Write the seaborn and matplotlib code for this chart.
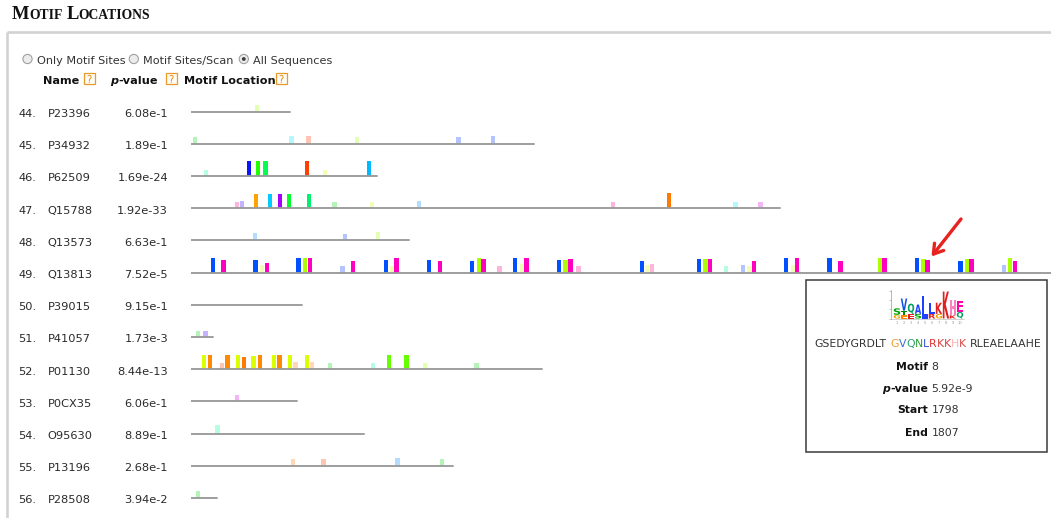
import numpy as np
import pandas as pd
import matplotlib
matplotlib.use("Agg")
import matplotlib.pyplot as plt
import seaborn as sns
from matplotlib.patches import Rectangle, Circle, PathPatch
from matplotlib.textpath import TextPath
from matplotlib.font_manager import FontProperties
from matplotlib.transforms import Affine2D

# ---------------- data ----------------
row_numbers = [44, 45, 46, 47, 48, 49, 50, 51, 52, 53, 54, 55, 56]
names = ['P23396', 'P34932', 'P62509', 'Q15788', 'Q13573', 'Q13813', 'P39015',
         'P41057', 'P01130', 'P0CX35', 'O95630', 'P13196', 'P28508']
pvalues = ['6.08e-1', '1.89e-1', '1.69e-24', '1.92e-33', '6.63e-1', '7.52e-5', '9.15e-1',
           '1.73e-3', '8.44e-13', '6.06e-1', '8.89e-1', '2.68e-1', '3.94e-2']
seq_lengths = [242, 840, 457, 1443, 535, 2472, 272, 54, 860, 260, 423, 641, 64]

palette = {
    'blue': '#0a14ff', 'blue2': '#0050ff', 'green': '#22ff00', 'green2': '#00ff50',
    'ored': '#ff4000', 'sky': '#00b8ff', 'orange': '#ffa200', 'cyan': '#00ccff',
    'purple': '#a400ff', 'green3': '#00ff2a', 'green4': '#00f070', 'orange2': '#ff7a00',
    'ygreen': '#aaff00', 'magenta': '#ff00c0', 'yellow': '#dcff00', 'orange3': '#ff8a00',
    'lime': '#66ff00',
    'p_ygreen': '#e2ffb4', 'p_green': '#b4f4b8', 'p_cyan': '#b4f8ff', 'p_salmon': '#ffc4b4',
    'p_blue': '#b4c4ff', 'p_mint': '#b4ffe2', 'p_pink': '#ffb4dc', 'p_lav': '#c4b4ff',
    'p_sky': '#b4dcff', 'p_violet': '#f4b4f8', 'p_peach': '#ffd8b8', 'p_yellow': '#f0ffb4',
}

# motif sites per sequence: (centre residue, site score height, colour key)
sites_44 = [(162, 7, 'p_ygreen')]
sites_45 = [(11, 6.7, 'p_green'), (247, 8, 'p_cyan'), (288, 8, 'p_salmon'),
            (407, 6.7, 'p_ygreen'), (655, 6.7, 'p_blue'), (740, 8, 'p_blue')]
sites_46 = [(37, 6, 'p_mint'), (143, 15, 'blue'), (165, 15, 'green'), (183, 15, 'green2'),
            (285, 15, 'ored'), (329, 6, 'p_yellow'), (436, 15, 'sky')]
sites_47 = [(113, 6.7, 'p_pink'), (126, 7.3, 'p_lav'), (160, 14.7, 'orange'), (194, 14.7, 'cyan'),
            (218, 14.7, 'purple'), (240, 14.7, 'green3'), (290, 14.7, 'green4'),
            (352, 6.3, 'p_green'), (444, 6.3, 'p_yellow'), (559, 7.3, 'p_sky'),
            (1033, 6.7, 'p_pink'), (1170, 15, 'orange2'), (1333, 6.7, 'p_cyan'), (1394, 6.7, 'p_violet')]
sites_48 = [(157, 7.3, 'p_sky'), (378, 6.3, 'p_blue'), (458, 8.7, 'p_ygreen')]
sites_49 = [(54, 14.7, 'blue2'), (80, 12.7, 'magenta'), (159, 12.7, 'blue2'), (175, 7.7, 'p_yellow'),
            (187, 10, 'magenta'), (264, 14.7, 'blue2'), (280, 14.7, 'ygreen'), (292, 14.7, 'magenta'),
            (372, 6.7, 'p_blue'), (397, 11.3, 'magenta'), (478, 12.7, 'blue2'), (493, 6.7, 'p_yellow'),
            (504, 14.7, 'magenta'), (583, 12.7, 'blue2'), (610, 11.3, 'magenta'), (688, 11.3, 'blue2'),
            (705, 14.7, 'ygreen'), (716, 13.7, 'magenta'), (755, 6.7, 'p_pink'), (794, 14.7, 'blue2'),
            (811, 9, 'p_yellow'), (822, 14.7, 'magenta'), (901, 12.3, 'blue2'), (917, 12.3, 'ygreen'),
            (929, 13.3, 'magenta'), (949, 6.3, 'p_pink'), (1104, 11.3, 'blue2'), (1118, 7.3, 'p_yellow'),
            (1129, 8.3, 'p_pink'), (1244, 13.3, 'blue2'), (1260, 13.3, 'ygreen'), (1271, 13.3, 'magenta'),
            (1310, 6.3, 'p_mint'), (1351, 7.3, 'p_blue'), (1367, 6.3, 'p_yellow'), (1378, 11.3, 'magenta'),
            (1457, 14.3, 'blue2'), (1474, 7.3, 'p_yellow'), (1484, 14.3, 'magenta'), (1563, 14.3, 'blue2'),
            (1590, 11.3, 'magenta'), (1687, 14.3, 'ygreen'), (1698, 14.3, 'magenta'), (1777, 14.3, 'blue2'),
            (1793, 13.3, 'ygreen'), (1803, 12.3, 'magenta'), (1884, 11.3, 'blue2'), (1899, 13.3, 'ygreen'),
            (1910, 13.3, 'magenta'), (1990, 7.3, 'p_blue'), (2005, 14.3, 'ygreen'), (2017, 11.3, 'magenta')]
sites_50 = []
sites_51 = [(18, 6.3, 'p_green'), (36, 6.3, 'p_lav')]
sites_52 = [(33, 14.7, 'yellow'), (47, 14.7, 'orange3'), (77, 6, 'p_salmon'), (90, 14.7, 'orange3'),
            (116, 14.7, 'yellow'), (130, 12, 'orange2'), (154, 13.3, 'yellow'), (169, 14.7, 'orange3'),
            (204, 14.7, 'yellow'), (217, 14.7, 'orange3'), (243, 14.7, 'yellow'), (256, 7.3, 'p_peach'),
            (284, 14.7, 'yellow'), (297, 7.3, 'p_peach'), (341, 6.3, 'p_green'), (446, 6.3, 'p_mint'),
            (485, 14.7, 'lime'), (528, 14.7, 'lime'), (573, 6.3, 'p_ygreen'), (699, 6.3, 'p_green')]
sites_53 = [(113, 6.3, 'p_violet')]
sites_54 = [(65, 8.7, 'p_mint')]
sites_55 = [(250, 6.7, 'p_peach'), (325, 6.7, 'p_salmon'), (506, 7.7, 'p_sky'), (615, 6.7, 'p_green')]
sites_56 = [(18, 6.7, 'p_green')]
all_sites = [sites_44, sites_45, sites_46, sites_47, sites_48, sites_49, sites_50,
             sites_51, sites_52, sites_53, sites_54, sites_55, sites_56]

# tooltip contents
tip_left = 'GSEDYGRDLT'
tip_site = 'GVQNLRKKHK'
tip_site_colors = ['#f0a030', '#3a6fd0', '#30a070', '#30a030', '#3050e0',
                   '#e03030', '#d84040', '#d84040', '#ffb0b0', '#d84848']
tip_right = 'RLEAELAAHE'
tip_fields = [('Motif', '8'), ('p-value', '5.92e-9'), ('Start', '1798'), ('End', '1807')]

# sequence logo (bottom -> top): letter, colour, height in bits
logo_columns = [
    [('G', '#f0a000', 0.4), ('S', '#00a000', 0.7)],
    [('E', '#ff8800', 0.35), ('T', '#008800', 0.5), ('V', '#1050e0', 1.3)],
    [('E', '#e02020', 0.5), ('Q', '#00a060', 1.1)],
    [('S', '#00a000', 0.5), ('A', '#2040ff', 1.0)],
    [('L', '#2040ff', 2.4)],
    [('R', '#e02020', 0.5), ('L', '#2040ff', 1.2)],
    [('G', '#f0a000', 0.5), ('K', '#e02020', 1.2)],
    [('K', '#e02020', 2.9)],
    [('K', '#e02020', 0.35), ('H', '#ff80c0', 1.6)],
    [('Q', '#00a060', 0.7), ('E', '#ff00aa', 1.2)],
]

# ---------------- figure ----------------
sns.set_theme(style='white')
plt.rcParams['font.family'] = ['DejaVu Sans']

W, H = 1051, 518
fig = plt.figure(figsize=(W / 100, H / 100), dpi=100)
fig.patch.set_facecolor('white')

# pixel-space overlay for page furniture
bg = fig.add_axes([0, 0, 1, 1])
bg.set_xlim(0, W)
bg.set_ylim(H, 0)
bg.axis('off')
bg.patch.set_visible(False)
bg.set_zorder(2)

# track axes: x in residues, y in row index
x0_px = 190.7
px_per_res = 0.4087
row0_px = 111.7
row_step = 32.19
ax = fig.add_axes([x0_px / W, 0, (W - x0_px) / W, 1])
ax.set_zorder(1)
ax.patch.set_visible(False)

df_lines = pd.DataFrame({
    'x': np.ravel([[0, L] for L in seq_lengths]),
    'row': np.repeat(np.arange(len(names)), 2),
    'name': np.repeat(names, 2),
})
sns.lineplot(data=df_lines, x='x', y='row', units='name', estimator=None, sort=False,
             color='#9a9a9a', lw=1.35, ax=ax, legend=False, zorder=3)

site_w = 11
for i, sites in enumerate(all_sites):
    if not sites:
        continue
    pos = [s[0] for s in sites]
    hts = [s[1] / row_step for s in sites]
    cols = [palette[s[2]] for s in sites]
    ax.bar(pos, [-h for h in hts], bottom=i, width=site_w, color=cols,
           edgecolor='none', align='center', zorder=2)

ax.set_xlim(0, (W - x0_px) / px_per_res)
ax.set_ylim((H - row0_px) / row_step, -row0_px / row_step)
ax.axis('off')

renderer = fig.canvas.get_renderer()
TXT = '#2a2a2a'


def chain(parts, x, y, **common):
    """parts: list of (text, kwargs); returns end x in px"""
    for txt, kw in parts:
        opts = dict(common)
        opts.update(kw)
        t = bg.text(x, y, txt, va='baseline', ha='left', **opts)
        bb = t.get_window_extent(renderer=renderer)
        x = bb.x1 + opts.get('gap', 0) if False else bb.x1
    return x


def width_of(txt, **kw):
    t = bg.text(0, 0, txt, **kw)
    w = t.get_window_extent(renderer=renderer).width
    t.remove()
    return w


# title
serif = ['Liberation Serif', 'DejaVu Serif']
tx = 11.5
for txt, sz in [('M', 18.5), ('OTIF', 13.6), (' ', 13.6), ('L', 18.5), ('OCATIONS', 13.6)]:
    if txt == ' ':
        tx += 4
        continue
    t = bg.text(tx, 19.2, txt, family=serif, weight='bold', fontsize=sz * 0.72,
                color='#111111', va='baseline', ha='left')
    tx = t.get_window_extent(renderer=renderer).x1

# panel border
bg.plot([6.7, W], [31.8, 31.8], color='#d2d2d2', lw=1.9, solid_capstyle='butt')
bg.plot([6.7, 6.7], [31.8, H], color='#d2d2d2', lw=1.9, solid_capstyle='butt')

# radio buttons
fs = 11.2 * 0.72
for cx, label, x_lab, checked in [(27.5, 'Only Motif Sites', 36.7, False),
                                  (133.8, 'Motif Sites/Scan', 143.3, False),
                                  (243.8, 'All Sequences', 253.3, True)]:
    bg.add_patch(Circle((cx, 59), 4.6, facecolor='#ececec', edgecolor='#a0a0a0', lw=0.8))
    if checked:
        bg.add_patch(Circle((cx, 59), 1.9, facecolor='#3c3c3c', edgecolor='none'))
    bg.text(x_lab, 64, label, fontsize=fs, color='#333333', va='baseline', ha='left')


def help_box(x):
    bg.add_patch(Rectangle((x, 72.7), 11.5, 11.8, facecolor='#fffdf5', edgecolor='#e59a2b', lw=0.9))
    bg.text(x + 5.75, 82.6, '?', fontsize=10 * 0.72, color='#e08a10', ha='center', va='baseline')


bg.text(43.3, 84, 'Name', fontsize=fs, weight='bold', color='#111111', va='baseline')
help_box(83.5)
t = bg.text(110, 84, 'p', fontsize=fs, weight='bold', style='italic', color='#111111', va='baseline')
x_end = t.get_window_extent(renderer=renderer).x1
bg.text(x_end, 84, '-value', fontsize=fs, weight='bold', color='#111111', va='baseline')
help_box(165.5)
bg.text(184.3, 84, 'Motif Location', fontsize=fs, weight='bold', color='#111111', va='baseline')
help_box(275.5)

# row labels
fs_row = 11.4 * 0.72
for i, (num, nm, pv) in enumerate(zip(row_numbers, names, pvalues)):
    yb = row0_px + i * row_step + 5.4
    bg.text(18.2, yb, f'{num}.', fontsize=fs_row, color=TXT, va='baseline', ha='left')
    bg.text(47.4, yb, nm, fontsize=fs_row, color=TXT, va='baseline', ha='left')
    bg.text(168, yb, pv, fontsize=fs_row, color=TXT, va='baseline', ha='right')

# arrow
bg.annotate('', xy=(931.5, 256.5), xytext=(961, 219),
            arrowprops=dict(arrowstyle='->,head_length=0.55,head_width=0.35', color='#e8221e', lw=2.4,
                            shrinkA=0, shrinkB=0))

# tooltip box
bg.add_patch(Rectangle((805.5, 279.5), 241.5, 172, facecolor='white', edgecolor='#3a3a3a', lw=1.1, zorder=5))

# logo
logo_fp = FontProperties(family='DejaVu Sans', weight='bold')
lx0, lbase, col_w, bit_px = 893.5, 318.5, 7.0, 9.3
bg.plot([890.5, 890.5], [290, lbase], color='#9a9a9a', lw=0.5, zorder=6)
for k in range(4):
    bg.plot([889, 890.5], [lbase - k * bit_px, lbase - k * bit_px], color='#9a9a9a', lw=0.4, zorder=6)
bg.plot([891, lx0 + col_w * len(logo_columns)], [lbase + 0.6, lbase + 0.6], color='#b0b0b0', lw=0.4, zorder=6)
for j, col in enumerate(logo_columns):
    yb = lbase
    for letter, colr, bits in col:
        hpx = bits * bit_px
        tp = TextPath((0, 0), letter, size=1, prop=logo_fp)
        ext = tp.get_extents()
        tr = (Affine2D().translate(-ext.x0, -ext.y0)
              .scale((col_w - 0.6) / ext.width, -hpx / ext.height)
              .translate(lx0 + j * col_w + 0.3, yb))
        bg.add_patch(PathPatch(tr.transform_path(tp), facecolor=colr, edgecolor='none', zorder=6))
        yb -= hpx
    bg.text(lx0 + j * col_w + col_w / 2, lbase + 4.5, str(j + 1), fontsize=2.6, color='#999999',
            ha='center', va='center', zorder=6)

# tooltip sequence text
fs_tip = 10.9 * 0.72
seg_gap = width_of(' ', fontsize=fs_tip)
total = (width_of(tip_left, fontsize=fs_tip) + width_of(tip_site, fontsize=fs_tip)
         + width_of(tip_right, fontsize=fs_tip) + 2 * width_of('a', fontsize=fs_tip) * 0.55)
sx = 928 - total / 2
ybase = 347.3
t = bg.text(sx, ybase, tip_left, fontsize=fs_tip, color='#333333', va='baseline', zorder=6)
sx = t.get_window_extent(renderer=renderer).x1 + width_of('a', fontsize=fs_tip) * 0.55
for ch, c in zip(tip_site, tip_site_colors):
    t = bg.text(sx, ybase, ch, fontsize=fs_tip, color=c, va='baseline', zorder=6)
    sx = t.get_window_extent(renderer=renderer).x1
sx += width_of('a', fontsize=fs_tip) * 0.55
bg.text(sx, ybase, tip_right, fontsize=fs_tip, color='#333333', va='baseline', zorder=6)

# tooltip fields
for (lab, val), yb in zip(tip_fields, [369.7, 391.8, 413.3, 436.3]):
    if lab == 'p-value':
        t2 = bg.text(928, yb, '-value', fontsize=fs_tip, weight='bold', color='#111111',
                     va='baseline', ha='right', zorder=6)
        x1 = t2.get_window_extent(renderer=renderer).x0
        bg.text(x1, yb, 'p', fontsize=fs_tip, weight='bold', style='italic', color='#111111',
                va='baseline', ha='right', zorder=6)
    else:
        bg.text(928, yb, lab, fontsize=fs_tip, weight='bold', color='#111111',
                va='baseline', ha='right', zorder=6)
    bg.text(931.5, yb, val, fontsize=fs_tip, color='#333333', va='baseline', ha='left', zorder=6)

fig.savefig('out.png', dpi=100, facecolor='white')
